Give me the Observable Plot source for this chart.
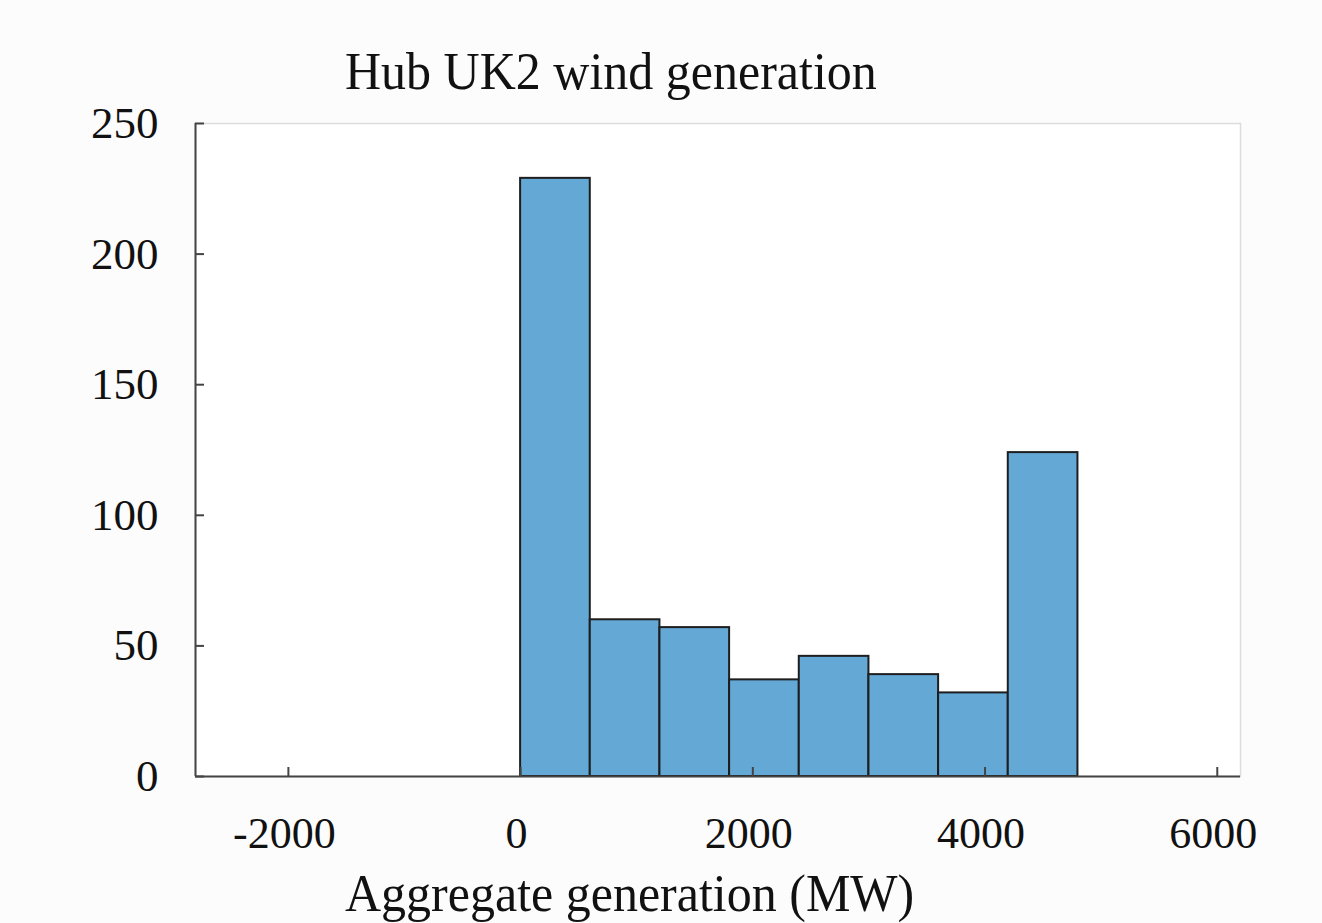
<!DOCTYPE html>
<html><head><meta charset="utf-8">
<script src="https://cdn.jsdelivr.net/npm/d3@7"></script>
<script src="https://cdn.jsdelivr.net/npm/@observablehq/plot@0.6"></script>
<style>
body{margin:0;background:#fcfcfc;}
#wrap{position:relative;width:1322px;height:923px;overflow:hidden;font-family:"Liberation Serif","Times New Roman",serif;}
#wrap svg{position:absolute;left:0;top:0;background:transparent;}
.t{position:absolute;white-space:nowrap;color:#111;font-size:50px;line-height:50px;z-index:2;transform-origin:left top;transform:scaleY(1.06);}
</style></head><body>
<div id="wrap">
<div class="t" id="title" style="left:345px;top:44px;"></div>
<div class="t" id="xlab" style="left:345px;top:866px;"></div>
</div>
<script>
const titleText = "Hub UK2 wind generation";
const xLabel = "Aggregate generation (MW)";
const binStart = [0, 600, 1200, 1800, 2400, 3000, 3600, 4200];
const binEnd = [600, 1200, 1800, 2400, 3000, 3600, 4200, 4800];
const counts = [229, 60, 57, 37, 46, 39, 32, 124];
const xTicks = [-2000, 0, 2000, 4000, 6000];
const yTicks = [0, 50, 100, 150, 200, 250];
const xDomain = [-2800, 6200];
const yDomain = [0, 250];

const bins = binStart.map((s, i) => ({x1: s, x2: binEnd[i], y: counts[i]}));

const W = 1322, H = 923, mL = 195, mR = 82, mT = 123, mB = 147;
const fw = W - mL - mR, fh = H - mT - mB;
const font = '"Liberation Serif","Times New Roman",serif';

const chart = Plot.plot({
  width: W, height: H,
  marginLeft: mL, marginRight: mR, marginTop: mT, marginBottom: mB,
  style: {fontFamily: font, background: "transparent", color: "#111"},
  x: {domain: xDomain},
  y: {domain: yDomain},
  marks: [
    Plot.frame({fill: "white", stroke: "#dcdcdc", strokeWidth: 1.5}),
    Plot.rectY(bins, {x1: "x1", x2: "x2", y: "y", fill: "rgb(100,168,214)", stroke: "#1e1e1e", strokeWidth: 2}),
    Plot.ruleX(xTicks, {stroke: "#444", strokeWidth: 2, insetTop: fh - 9}),
    Plot.ruleY(yTicks, {stroke: "#444", strokeWidth: 2, insetRight: fw - 9}),
    Plot.ruleY([yDomain[0]], {stroke: "#444", strokeWidth: 2}),
    Plot.ruleX([xDomain[0]], {stroke: "#444", strokeWidth: 2}),
    Plot.axisX(xTicks, {tickSize: 0, tickPadding: 40, fontSize: 44, dx: -4, label: null, tickFormat: d => String(d)}),
    Plot.axisY(yTicks, {tickSize: 0, tickPadding: 37, fontSize: 45, label: null, tickFormat: d => String(d)})
  ]
});
document.getElementById("wrap").appendChild(chart);
document.getElementById("title").textContent = titleText;
document.getElementById("xlab").textContent = xLabel;
</script>
</body></html>
